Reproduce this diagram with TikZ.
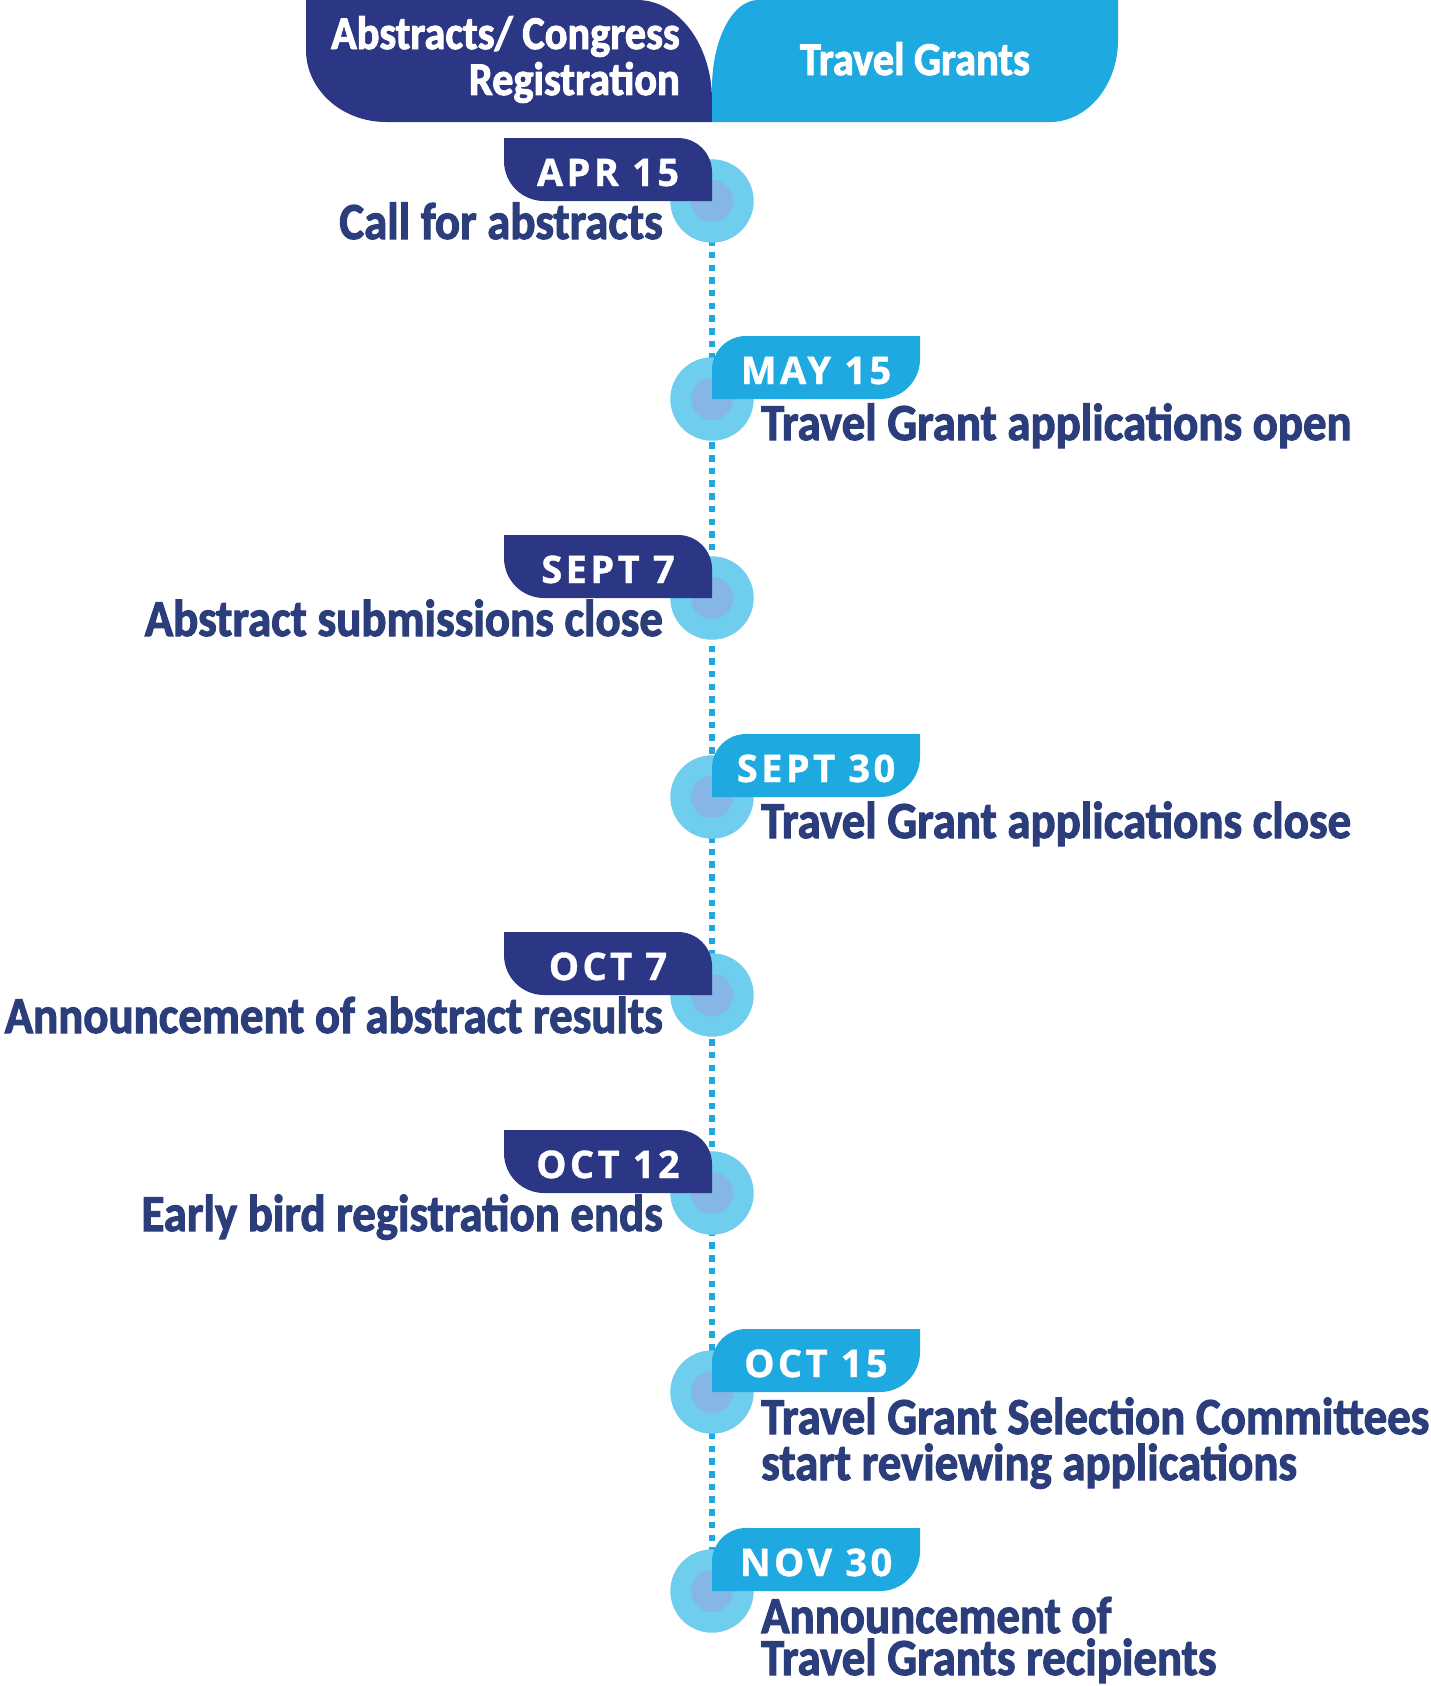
\documentclass[tikz,border=0pt]{standalone}
\usepackage{fontspec}
\setmainfont{Carlito}
\newfontfamily\corps{Carlito}[FakeStretch=0.9,FakeBold=2]
\newfontfamily\dates{Open Sans}[LetterSpace=9,FakeBold=1]
\definecolor{marine}{HTML}{2B3684}
\definecolor{ciel}{HTML}{1FA9E1}
\definecolor{encre}{HTML}{2B3E7B}
\definecolor{halo}{HTML}{6FCDEE}
\definecolor{coeur}{HTML}{86B6E6}

% onglet : #1 = 1 (droite) ou -1 (gauche), #2 = ordonnee, #3 = couleur, #4 = nom, #5 = date
\newcommand{\onglet}[5]{%
\begin{scope}[shift={(712,#2)},xscale=#1]
\fill[#3] (208,-63) -- (34,-63) .. controls (15.2,-63) and (0,-47.8) .. (0,-29)
  -- (0,0) -- (168,0) .. controls (190.1,0) and (208,-17.9) .. (208,-40) -- cycle;
\node[date] (#4) at (104,-15) {#5};
\end{scope}}

\begin{document}
\begin{tikzpicture}[x=1pt,y=-1pt]
\tikzstyle{pointille}=[ciel,line width=6.5pt,dash pattern=on 6.5pt off 6.2pt]
\tikzset{pastille/.style={circle,fill=halo,inner sep=0pt,minimum size=83.4pt,
  path picture={\fill[coeur] (path picture bounding box.center) circle (21pt);}},
date/.style={text=white,font=\dates\bfseries\fontsize{38}{40}\selectfont,anchor=base,inner sep=0pt},
texte/.style={text=encre,font=\corps\bfseries\fontsize{52}{46}\selectfont,inner sep=0pt},
titre/.style={text=white,font=\corps\bfseries\fontsize{47}{46}\selectfont,inner sep=0pt}}
\useasboundingbox (0,0) rectangle (1431,1686);

% en-tete
\fill[marine] (306,0) -- (637,0) .. controls (678.4,0) and (712,44.8) .. (712,100)
  -- (712,122) -- (386,122) .. controls (341.8,122) and (306,89.7) .. (306,50) -- cycle;
\fill[ciel] (1118,0) -- (758,0) .. controls (732.6,0) and (712,39.4) .. (712,88)
  -- (712,122) -- (1050,122) .. controls (1087.5,122) and (1118,85.3) .. (1118,40) -- cycle;
\node[titre,align=right,anchor=base east] (abstracts) at (680,95) {Abstracts/ Congress\\Registration};
\node[titre,anchor=base] (grants) at (915,75) {Travel Grants};

% ligne du temps
\coordinate (debut) at (712,201);
\coordinate (fin) at (712,1591);
\draw[pointille] (debut) -- (fin);

\node[pastille] (p1) at (712,201) {};
\node[pastille] (p2) at (712,399) {};
\node[pastille] (p3) at (712,598) {};
\node[pastille] (p4) at (712,797) {};
\node[pastille] (p5) at (712,995) {};
\node[pastille] (p6) at (712,1193) {};
\node[pastille] (p7) at (712,1392) {};
\node[pastille] (p8) at (712,1591) {};

\onglet{-1}{201}{marine}{d1}{APR 15}
\onglet{1}{399}{ciel}{d2}{MAY 15}
\onglet{-1}{598}{marine}{d3}{SEPT 7}
\onglet{1}{797}{ciel}{d4}{SEPT 30}
\onglet{-1}{995}{marine}{d5}{OCT 7}
\onglet{-1}{1193}{marine}{d6}{OCT 12}
\onglet{1}{1392}{ciel}{d7}{OCT 15}
\onglet{1}{1591}{ciel}{d8}{NOV 30}

\node[texte,anchor=base east] (t1) at (663,239) {Call for abstracts};
\node[texte,anchor=base west] (t2) at (761,440) {Travel Grant applications open};
\node[texte,anchor=base east] (t3) at (663,636) {Abstract submissions close};
\node[texte,anchor=base west] (t4) at (761,838) {Travel Grant applications close};
\node[texte,anchor=base east] (t5) at (663,1033) {Announcement of abstract results};
\node[texte,anchor=base east] (t6) at (663,1231) {Early bird registration ends};
\node[texte,anchor=base west,align=left] (t7) at (761,1480) {Travel Grant Selection Committees\\start reviewing applications};
\node[texte,anchor=base west,align=left,font=\corps\bfseries\fontsize{52}{42}\selectfont] (t8) at (761,1675) {Announcement of\\Travel Grants recipients};
\end{tikzpicture}
\end{document}
